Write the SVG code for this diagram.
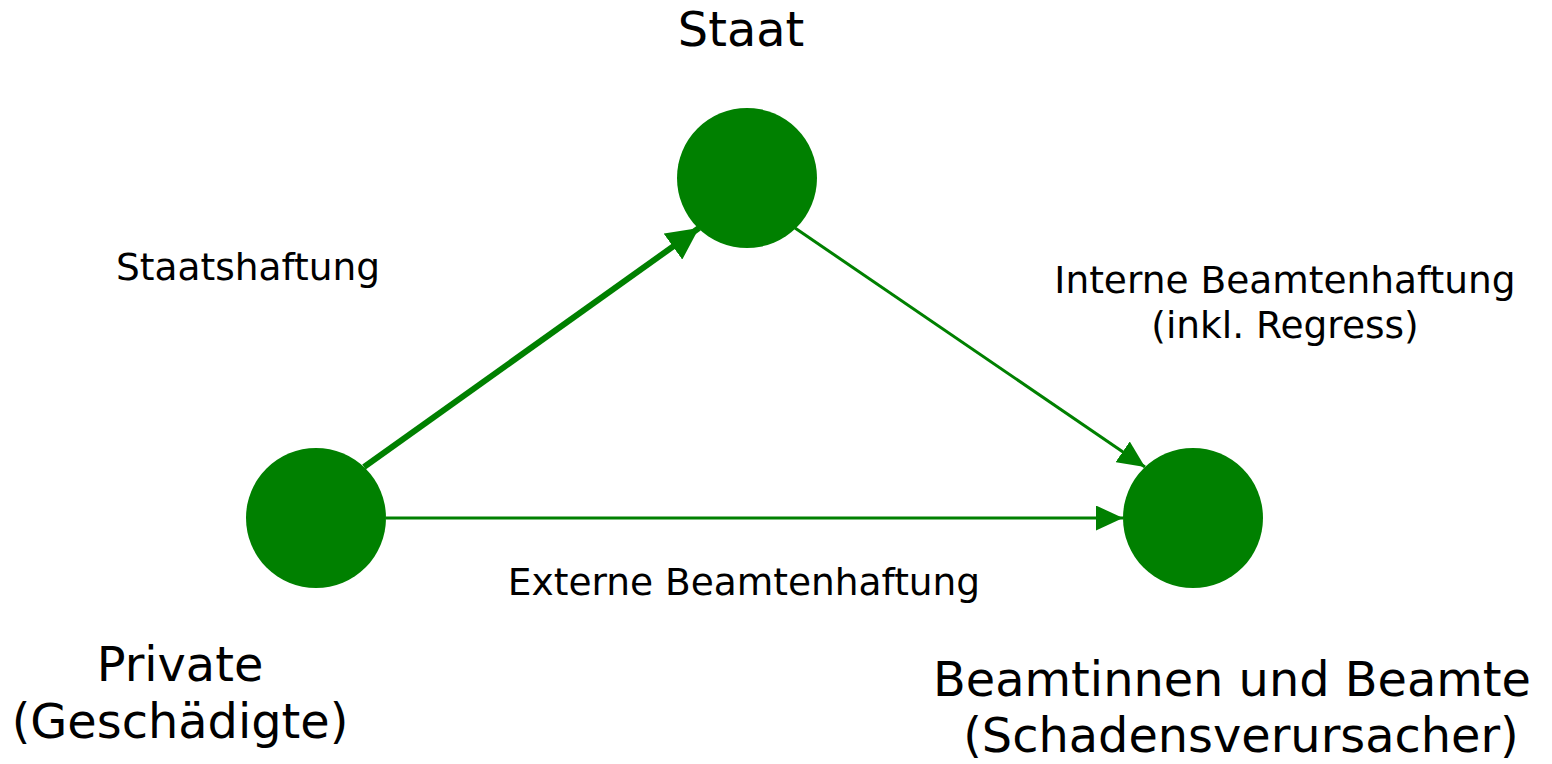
<svg xmlns="http://www.w3.org/2000/svg" width="1552" height="764" viewBox="0 0 1552 764">
<style>
text{font-family:"DejaVu Sans",Verdana,sans-serif;fill:#000}
.big{font-size:47.8px}
.lbl{font-size:37.5px}
.node{fill:#008000}
.edge{stroke:#008000;fill:none}
</style>
<defs>
<marker id="ahT" markerWidth="32" markerHeight="32" refX="32" refY="16" orient="auto" markerUnits="userSpaceOnUse" viewBox="0 0 32 32">
<path d="M0,0 L32,16 L0,32 Z" fill="#008000"/>
</marker>
<marker id="ahS" markerWidth="27" markerHeight="25" refX="27" refY="12.5" orient="auto" markerUnits="userSpaceOnUse" viewBox="0 0 27 25">
<path d="M0,0 L27,12.5 L0,25 Z" fill="#008000"/>
</marker>
</defs>
<g id="connectors">
<line class="edge" x1="364" y1="467" x2="699" y2="228" stroke-width="6" marker-end="url(#ahT)"/>
<line class="edge" x1="795" y1="228" x2="1145" y2="467" stroke-width="3" marker-end="url(#ahS)"/>
<line class="edge" x1="386" y1="518" x2="1123" y2="518" stroke-width="3" marker-end="url(#ahS)"/>
</g>
<g id="labels">
<text class="lbl" x="248" y="280" text-anchor="middle">Staatshaftung</text>
<text class="lbl" x="1285" y="293" text-anchor="middle">Interne Beamtenhaftung</text>
<text class="lbl" x="1285" y="338" text-anchor="middle">(inkl. Regress)</text>
<text class="lbl" x="744" y="595" text-anchor="middle">Externe Beamtenhaftung</text>
</g>
<g id="staat">
<circle class="node" cx="747" cy="178" r="70"/>
<text class="big" x="741" y="46" text-anchor="middle">Staat</text>
</g>
<g id="private">
<circle class="node" cx="316" cy="518" r="70"/>
<text class="big" x="180" y="681" text-anchor="middle">Private</text>
<text class="big" x="180" y="738" text-anchor="middle">(Geschädigte)</text>
</g>
<g id="beamte">
<circle class="node" cx="1193" cy="518" r="70"/>
<text class="big" x="1232" y="696" text-anchor="middle">Beamtinnen und Beamte</text>
<text class="big" x="1241" y="752" text-anchor="middle">(Schadensverursacher)</text>
</g>
</svg>
